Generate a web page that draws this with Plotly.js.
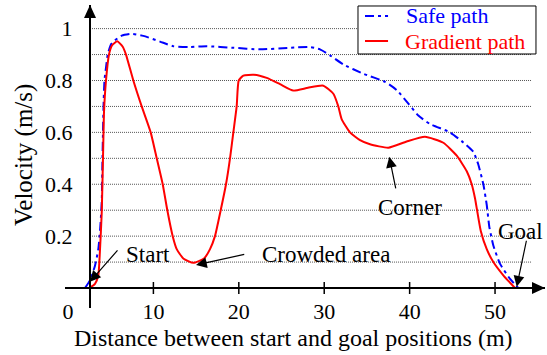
<!DOCTYPE html>
<html><head><meta charset="utf-8">
<script src="https://cdn.plot.ly/plotly-3.0.1.min.js"></script>
</head><body style="margin:0">
<div id="chart" style="width:547px;height:355px"></div>
<script>
// tick labels and marks
const xTickVals = [0, 10, 20, 30, 40, 50];
const xTickText = ['0', '10', '20', '30', '40', '50'];
const xMarkVals = [10, 20, 30, 40, 50];
const yTickVals = [0.2, 0.4, 0.6, 0.8, 1];
const yTickText = ['0.2', '0.4', '0.6', '0.8', '1'];
const gridVals = [0.1, 0.2, 0.3, 0.4, 0.5, 0.6, 0.7, 0.8, 0.9, 1.0];

// series
const seriesNames = ['Safe path', 'Gradient path'];
const safeX = [1.99,2.58,3.16,3.55,3.75,3.95,4.04,4.16,4.27,4.45,4.65,5.04,5.50,6.29,7.46,8.82,10.77,12.33,14.29,16.24,19.36,22.48,26.0,28.34,29.51,30.68,32.24,34.58,37.12,38.49,39.85,41.02,42.39,44.73,46.29,47.46,48.04,48.63,49.03,49.33,49.80,50.59,51.76,52.73];
const safeY = [0,0.03,0.086,0.15,0.22,0.33,0.5,0.7,0.8,0.85,0.9,0.94,0.955,0.973,0.98,0.972,0.95,0.932,0.929,0.932,0.926,0.92,0.926,0.929,0.92,0.897,0.862,0.826,0.795,0.763,0.711,0.665,0.632,0.6,0.561,0.525,0.476,0.4,0.32,0.236,0.164,0.093,0.035,0];
const gradX = [2.49,3.16,3.55,3.75,3.95,4.13,4.22,4.45,4.80,5.15,5.77,6.41,6.79,7.65,8.63,9.68,10.39,11.09,11.63,12.26,12.73,13.50,14.67,15.93,16.63,17.21,17.88,18.50,18.97,19.36,19.75,19.99,20.53,21.78,23.27,24.82,26.38,28.10,29.89,31.07,31.65,32.05,33.02,34.19,35.36,37.51,39.66,41.80,43.95,45.52,46.69,47.27,47.66,47.93,48.33,49.03,49.80,50.97,52.34];
const gradY = [0,0.016,0.049,0.15,0.29,0.55,0.68,0.8,0.9,0.935,0.951,0.93,0.9,0.8,0.7,0.6,0.5,0.4,0.3,0.2,0.15,0.114,0.097,0.114,0.15,0.2,0.3,0.4,0.5,0.6,0.7,0.8,0.819,0.822,0.81,0.786,0.761,0.772,0.78,0.749,0.7,0.65,0.6,0.57,0.554,0.541,0.565,0.583,0.56,0.51,0.45,0.4,0.345,0.293,0.22,0.15,0.1,0.049,0];

const xRange = [-0.35, 55.85];
const yRange = [-0.077, 1.091];
const yAxisAt = 2.58;      // data x where the vertical axis is drawn
const gridEnd = 54.3;
const xAxisPos = (0 - yRange[0]) / (yRange[1] - yRange[0]);
const yAxisPos = (yAxisAt - xRange[0]) / (xRange[1] - xRange[0]);

const safeLine = {color: '#0000FF', width: 2, dash: '9px,4px,3px,4px'};
const gradLine = {color: '#FF0000', width: 2};

const traces = [
  {x: safeX, y: safeY, name: seriesNames[0], type: 'scatter', mode: 'lines',
   line: Object.assign({shape: 'spline', smoothing: 0.5}, safeLine), showlegend: false},
  {x: gradX, y: gradY, name: seriesNames[1], type: 'scatter', mode: 'lines',
   line: Object.assign({shape: 'spline', smoothing: 0.5}, gradLine), showlegend: false}
];

const shapes = [];
gridVals.forEach(v => shapes.push({type: 'line', xref: 'x', yref: 'y', x0: yAxisAt, x1: gridEnd, y0: v, y1: v,
  line: {color: '#555', width: 1, dash: '1px,1px'}, layer: 'below'}));
xMarkVals.forEach(v => shapes.push({type: 'line', xref: 'x', yref: 'y', ysizemode: 'pixel', yanchor: 0,
  y0: -6, y1: 6, x0: v, x1: v, line: {color: 'black', width: 1.5}}));
// axis arrowheads
shapes.push({type: 'path', xref: 'paper', yref: 'paper', xsizemode: 'pixel', ysizemode: 'pixel',
  xanchor: 1, yanchor: xAxisPos, path: 'M0,0 L-13,6 L-13,-6 Z', fillcolor: 'black', line: {width: 0}});
shapes.push({type: 'path', xref: 'paper', yref: 'paper', xsizemode: 'pixel', ysizemode: 'pixel',
  xanchor: yAxisPos, yanchor: 1, path: 'M0,0 L-6,-13 L6,-13 Z', fillcolor: 'black', line: {width: 0}});
// legend box and samples
shapes.push({type: 'rect', xref: 'paper', yref: 'paper', x0: 0.6104, x1: 0.9812, y0: 0.8383, y1: 0.9967,
  fillcolor: 'white', line: {color: 'black', width: 1}});
shapes.push({type: 'line', xref: 'paper', yref: 'paper', x0: 0.625, x1: 0.673, y0: 0.9637, y1: 0.9637, line: safeLine});
shapes.push({type: 'line', xref: 'paper', yref: 'paper', x0: 0.625, x1: 0.673, y0: 0.8812, y1: 0.8812, line: gradLine});

const annotations = [];
// text labels
[['Start', 9.31, 0.131], ['Crowded area', 30.15, 0.131], ['Corner', 40.1, 0.31], ['Goal', 52.99, 0.216]]
  .forEach(a => annotations.push({text: a[0], x: a[1], y: a[2], xref: 'x', yref: 'y', showarrow: false,
    xanchor: 'center', yanchor: 'middle', font: {family: 'Liberation Serif', size: 23, color: 'black'}}));
// arrows [tipX, tipY, tailX, tailY]
[[2.58, 0.024, 5.95, 0.151], [14.99, 0.0887, 20.81, 0.131], [37.62, 0.506, 38.41, 0.378], [52.54, 0.005, 53.71, 0.188]]
  .forEach(a => annotations.push({text: '', x: a[0], y: a[1], ax: a[2], ay: a[3], xref: 'x', yref: 'y',
    axref: 'x', ayref: 'y', showarrow: true, arrowhead: 2, arrowsize: 1.8, arrowwidth: 1.2,
    arrowcolor: 'black', standoff: 0}));
// axis titles
annotations.push({text: 'Distance between start and goal positions (m)', xref: 'paper', yref: 'paper',
  x: 0.475, y: -0.099, showarrow: false, xanchor: 'center', yanchor: 'middle',
  font: {family: 'Liberation Serif', size: 24, color: 'black'}});
annotations.push({text: 'Velocity (m/s)', xref: 'paper', yref: 'paper', x: -0.0854, y: 0.505,
  textangle: -90, showarrow: false, xanchor: 'center', yanchor: 'middle',
  font: {family: 'Liberation Serif', size: 25, color: 'black'}});
// legend texts
annotations.push({text: seriesNames[0], xref: 'paper', yref: 'paper', x: 0.7063, y: 0.9637,
  showarrow: false, xanchor: 'left', yanchor: 'middle', font: {family: 'Liberation Serif', size: 22, color: '#0000FF'}});
annotations.push({text: seriesNames[1], xref: 'paper', yref: 'paper', x: 0.7035, y: 0.8779,
  showarrow: false, xanchor: 'left', yanchor: 'middle', font: {family: 'Liberation Serif', size: 22, color: '#FF0000'}});

const layout = {
  width: 547, height: 355,
  margin: {l: 65, r: 2, t: 5, b: 47, pad: 0},
  paper_bgcolor: 'white', plot_bgcolor: 'white',
  showlegend: false,
  xaxis: {range: xRange, anchor: 'free', position: xAxisPos, showline: true, linewidth: 2, linecolor: 'black',
    ticks: '', tickmode: 'array', tickvals: xTickVals, ticktext: xTickText,
    tickfont: {family: 'Liberation Serif', size: 22, color: 'black'},
    showgrid: false, zeroline: false, ticklabelstandoff: 4, automargin: false},
  yaxis: {range: yRange, anchor: 'free', position: yAxisPos, showline: true, linewidth: 2, linecolor: 'black',
    ticks: '', tickmode: 'array', tickvals: yTickVals, ticktext: yTickText,
    tickfont: {family: 'Liberation Serif', size: 22, color: 'black'},
    showgrid: false, zeroline: false, ticklabelstandoff: 12, automargin: false},
  shapes: shapes,
  annotations: annotations
};

Plotly.newPlot('chart', traces, layout, {staticPlot: true});
</script>
</body></html>
